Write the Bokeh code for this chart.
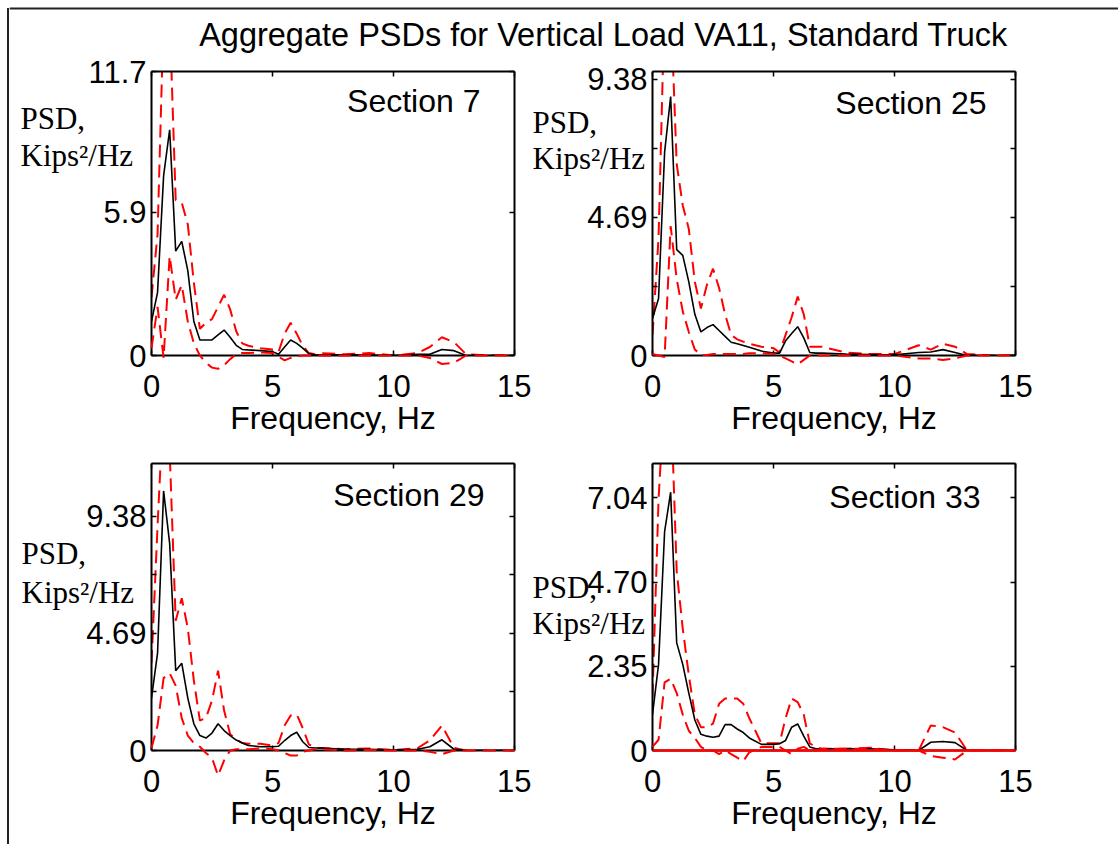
from bokeh.plotting import figure
from bokeh.models import Label, LinearAxis, FixedTicker, Range1d, ColumnDataSource
from bokeh.layouts import column, row
from bokeh.embed import file_html
from bokeh.resources import INLINE

TITLE = "Aggregate PSDs for Vertical Load VA11, Standard Truck"
X_LABEL = "Frequency, Hz"
Y_LABEL_1 = "PSD,"
Y_LABEL_2 = "Kips\u00b2/Hz"
X_TICKS = [0, 5, 10, 15]

FREQ = [0.0, 0.25, 0.5, 0.75, 1.0, 1.25, 1.5, 1.75, 2.0, 2.25, 2.5, 2.75, 3.0, 3.25, 3.5, 3.75,
        4.0, 4.5, 5.0, 5.25, 5.5, 5.75, 6.0, 6.25, 6.5, 6.75, 7.0, 8.0, 9.0, 10.0, 11.0, 11.5,
        12.0, 12.5, 13.0, 14.0, 15.0]

# Section 7
S7_MEAN = [1.4, 2.6, 7.4, 9.3, 4.3, 4.7, 3.5, 1.4, 0.64, 0.64, 0.64, 0.85, 1.05, 0.75, 0.42, 0.25,
           0.23, 0.2, 0.16, 0.05, 0.35, 0.64, 0.5, 0.3, 0.08, 0.02, 0.03, 0.03, 0.02, 0.0, 0.05, 0.05,
           0.25, 0.2, 0.0, 0.0, 0.0]
S7_UP = [2.4, 5.0, 14.0, 14.0, 6.4, 6.3, 5.4, 3.0, 1.1, 1.35, 1.5, 2.0, 2.5, 1.9, 1.0, 0.5,
         0.4, 0.3, 0.25, 0.15, 0.9, 1.35, 0.9, 0.4, 0.1, 0.05, 0.1, 0.05, 0.1, 0.0, 0.1, 0.35,
         0.75, 0.55, 0.05, 0.0, 0.0]
S7_LO = [0.3, 2.0, -0.1, 4.1, 2.3, 2.9, 1.4, 0.5, 0.0, -0.3, -0.5, -0.55, -0.4, -0.15, 0.05, 0.1,
         0.1, 0.12, 0.1, -0.05, -0.2, -0.1, -0.05, 0.0, 0.0, 0.0, 0.0, 0.0, 0.0, 0.0, 0.0, -0.1,
         -0.35, -0.3, 0.0, 0.0, 0.0]

# Section 25
S25_MEAN = [1.26, 1.94, 6.9, 8.8, 3.6, 3.4, 2.5, 1.4, 0.8, 0.95, 1.05, 0.85, 0.65, 0.45, 0.4, 0.34,
            0.28, 0.15, 0.08, 0.08, 0.5, 0.75, 0.98, 0.6, 0.1, 0.08, 0.08, 0.05, 0.03, 0.02, 0.1, 0.12,
            0.2, 0.1, 0.0, 0.0, 0.0]
S25_UP = [0.7, 4.0, 12.0, 12.0, 6.5, 5.1, 4.3, 2.5, 1.6, 2.4, 2.95, 2.3, 1.4, 0.7, 0.55, 0.47,
          0.4, 0.3, 0.25, 0.1, 0.7, 1.3, 2.0, 1.4, 0.3, 0.3, 0.3, 0.1, 0.05, 0.05, 0.35, 0.2,
          0.4, 0.3, 0.05, 0.0, 0.0]
S25_LO = [0.05, 0.0, -0.05, 4.4, 2.6, 1.5, 0.8, 0.2, 0.02, 0.02, 0.05, 0.05, 0.05, 0.05, 0.05, 0.05,
          0.08, 0.08, 0.05, 0.0, -0.1, -0.2, -0.3, -0.15, 0.0, 0.0, 0.0, 0.0, 0.0, 0.0, -0.1, -0.1,
          -0.15, -0.1, 0.0, 0.0, 0.0]

# Section 29
S29_MEAN = [2.1, 3.9, 10.4, 8.3, 3.2, 3.5, 2.1, 1.07, 0.6, 0.5, 0.7, 1.07, 0.8, 0.6, 0.42, 0.3,
            0.2, 0.15, 0.15, 0.17, 0.4, 0.6, 0.73, 0.35, 0.12, 0.1, 0.1, 0.05, 0.05, 0.02, 0.05, 0.15,
            0.43, 0.05, 0.0, 0.0, 0.0]
S29_UP = [3.5, 9.0, 14.0, 12.0, 5.2, 6.1, 4.9, 2.8, 1.2, 1.3, 2.0, 3.2, 1.6, 0.65, 0.45, 0.3,
          0.27, 0.27, 0.2, 0.3, 1.0, 1.4, 1.45, 0.9, 0.25, 0.1, 0.1, 0.05, 0.08, 0.02, 0.1, 0.4,
          1.0, 0.1, 0.0, 0.0, 0.0]
S29_LO = [0.1, 1.0, 2.9, 3.1, 2.6, 1.3, 0.6, 0.3, 0.15, -0.1, -0.3, -1.0, -0.4, 0.0, 0.05, 0.05,
          0.05, 0.08, 0.05, 0.0, -0.1, -0.2, -0.2, -0.05, 0.0, 0.05, 0.05, 0.0, 0.02, 0.0, 0.0, -0.05,
          -0.15, 0.0, 0.0, 0.0, 0.0]

# Section 33
S33_MEAN = [1.0, 2.4, 6.1, 7.2, 3.0, 2.4, 1.6, 0.85, 0.45, 0.4, 0.37, 0.4, 0.72, 0.72, 0.6, 0.5,
            0.35, 0.17, 0.17, 0.19, 0.28, 0.65, 0.74, 0.4, 0.1, 0.05, 0.05, 0.05, 0.05, 0.02, 0.0, 0.23,
            0.25, 0.22, 0.0, 0.0, 0.0]
S33_UP = [1.5, 7.0, 10.0, 10.0, 5.0, 3.4, 2.1, 1.0, 0.65, 0.65, 0.75, 1.3, 1.45, 1.45, 1.45, 1.3,
          0.9, 0.2, 0.2, 0.2, 0.9, 1.45, 1.35, 1.0, 0.2, 0.1, 0.05, 0.05, 0.08, 0.0, 0.0, 0.7,
          0.65, 0.5, 0.0, 0.0, 0.0]
S33_LO = [0.1, 0.3, 1.9, 2.0, 1.6, 1.0, 0.55, 0.35, 0.1, 0.0, 0.0, -0.1, 0.0, -0.1, -0.2, -0.3,
          -0.05, 0.1, 0.1, 0.1, 0.0, -0.1, 0.05, 0.1, 0.0, 0.0, 0.05, 0.05, 0.05, 0.0, 0.0, -0.15,
          -0.2, -0.25, 0.0, 0.0, 0.0]
# Section 33 also shows a solid red zero-level line along the whole frequency axis
S33_FLOOR_F = [0.0, 15.0]
S33_FLOOR = [0.0, 0.0]

Y_MAX = [11.7, 9.65, 11.5, 8.0]
Y_TICKS = [[0, 5.9, 11.7], [0, 4.69, 9.38], [0, 4.69, 9.38], [0, 2.347, 4.693, 7.04]]
Y_TICK_LABELS = [["0", "5.9", "11.7"], ["0", "4.69", "9.38"], ["0", "4.69", "9.38"],
                 ["0", "2.35", "4.70", "7.04"]]
Y_MINOR = [[], [2.345, 7.035], [2.345, 7.035], []]
SECTIONS = ["Section 7", "Section 25", "Section 29", "Section 33"]

SANS = "Liberation Sans"
SERIF = "Liberation Serif"
DASH = "13 7"


def style_axis(ax):
    ax.axis_line_width = 2
    ax.axis_line_color = "black"
    ax.major_tick_in = 5
    ax.major_tick_out = 0
    ax.major_tick_line_width = 1.5
    ax.major_tick_line_color = "black"
    ax.minor_tick_in = 5
    ax.minor_tick_out = 0
    ax.minor_tick_line_width = 1.5
    ax.minor_tick_line_color = "black"
    ax.major_label_text_font = SANS
    ax.major_label_text_color = "black"
    ax.major_label_text_font_size = "31px"


def blank_axis(ticks, minor, size):
    ax = LinearAxis(ticker=FixedTicker(ticks=ticks, minor_ticks=minor))
    style_axis(ax)
    ax.major_label_overrides = {t: "" for t in ticks}
    ax.major_label_text_font_size = size
    ax.major_label_standoff = 0
    return ax


def panel(idx, width, height, ml, mr, mt, mb, mean, up, lo, sec_xy, psd_off, kips_off, floor=None):
    p = figure(width=width, height=height, x_range=Range1d(0, 15), y_range=Range1d(0, Y_MAX[idx]),
               output_backend="svg", toolbar_location=None,
               min_border_left=ml, min_border_right=mr, min_border_top=mt, min_border_bottom=mb)
    p.grid.visible = False
    p.outline_line_color = None
    p.background_fill_color = "white"
    p.border_fill_color = "white"

    yt = Y_TICKS[idx]
    overrides = {t: s for t, s in zip(yt, Y_TICK_LABELS[idx])}

    xa = p.xaxis[0]
    xa.ticker = FixedTicker(ticks=X_TICKS)
    style_axis(xa)
    xa.major_label_standoff = 19
    xa.axis_label = X_LABEL
    xa.axis_label_text_font = SANS
    xa.axis_label_text_font_size = "32px"
    xa.axis_label_text_font_style = "normal"
    xa.axis_label_text_color = "black"
    xa.axis_label_standoff = 0

    ya = p.yaxis[0]
    ya.ticker = FixedTicker(ticks=yt, minor_ticks=Y_MINOR[idx])
    ya.major_label_overrides = overrides
    style_axis(ya)
    ya.major_label_standoff = 5

    p.add_layout(blank_axis(X_TICKS, [], "2px"), "above")
    p.add_layout(blank_axis(yt, Y_MINOR[idx], "31px"), "right")

    src = ColumnDataSource(dict(f=FREQ, m=mean, u=up, l=lo))
    p.line("f", "u", source=src, line_color="#ff0000", line_width=2, line_dash=DASH)
    p.line("f", "m", source=src, line_color="black", line_width=1.6)
    if floor is not None:
        p.line(floor[0], floor[1], line_color="#ff0000", line_width=2.5, level="overlay")
    p.line("f", "l", source=src, line_color="#ff0000", line_width=2, line_dash=DASH, level="overlay")

    p.add_layout(Label(x=sec_xy[0], y=sec_xy[1], x_units="screen", y_units="screen",
                       text=SECTIONS[idx], text_align="right", text_baseline="middle",
                       text_font=SANS, text_font_size="32px", text_color="black"))
    # y-axis caption (two lines), anchored at the frame's lower-left corner with pixel offsets
    p.text(x=[0, 0], y=[0, 0], text=[Y_LABEL_1, Y_LABEL_2],
           x_offset=[psd_off[0], kips_off[0]], y_offset=[psd_off[1], kips_off[1]],
           text_align="left", text_baseline="middle", text_font={"value": SERIF},
           text_font_size="31px", text_color="black", level="overlay")
    return p


H_TITLE = 53
H_TOTAL = 844
W_TOTAL = 1118
W_STRIP = 9

# thin strip carrying the left frame line
strip = figure(width=W_STRIP, height=H_TOTAL, x_range=Range1d(0, W_STRIP), y_range=Range1d(0, H_TOTAL),
               output_backend="svg", toolbar_location=None, min_border=0,
               x_axis_location=None, y_axis_location=None)
strip.grid.visible = False
strip.outline_line_color = None
strip.segment(x0=[7.5], y0=[0], x1=[7.5], y1=[H_TOTAL - 7.5], line_color="#222222", line_width=2)

tfig = figure(width=W_TOTAL - W_STRIP, height=H_TITLE, x_range=Range1d(0, W_TOTAL - W_STRIP),
              y_range=Range1d(0, H_TITLE), output_backend="svg", toolbar_location=None, min_border=0,
              x_axis_location=None, y_axis_location=None)
tfig.grid.visible = False
tfig.outline_line_color = None
tfig.hspan(y=[H_TITLE - 7.5], line_color="#222222", line_width=2)
tfig.add_layout(Label(x=594, y=H_TITLE - 34.5, x_units="screen", y_units="screen", text=TITLE,
                      text_align="center", text_baseline="middle",
                      text_font=SANS, text_font_size="32.5px", text_color="black"))

p1 = panel(0, 522, 392, 142, 17, 18, 90, S7_MEAN, S7_UP, S7_LO, (329, 254.5), (-131, -237), (-131, -200.5))
p2 = panel(1, 587, 392, 121, 103, 18, 90, S25_MEAN, S25_UP, S25_LO, (334, 253), (-120, -233), (-120, -197))
p3 = panel(2, 522, 399, 142, 17, 18, 94, S29_MEAN, S29_UP, S29_LO, (333, 256), (-130, -197), (-130, -158))
p4 = panel(3, 587, 399, 121, 103, 18, 94, S33_MEAN, S33_UP, S33_LO, (328, 254), (-120, -163), (-120, -127),
           floor=(S33_FLOOR_F, S33_FLOOR))

layout = row(strip, column(tfig, row(p1, p2), row(p3, p4)))

open("out.html", "w").write(file_html(layout, INLINE))
